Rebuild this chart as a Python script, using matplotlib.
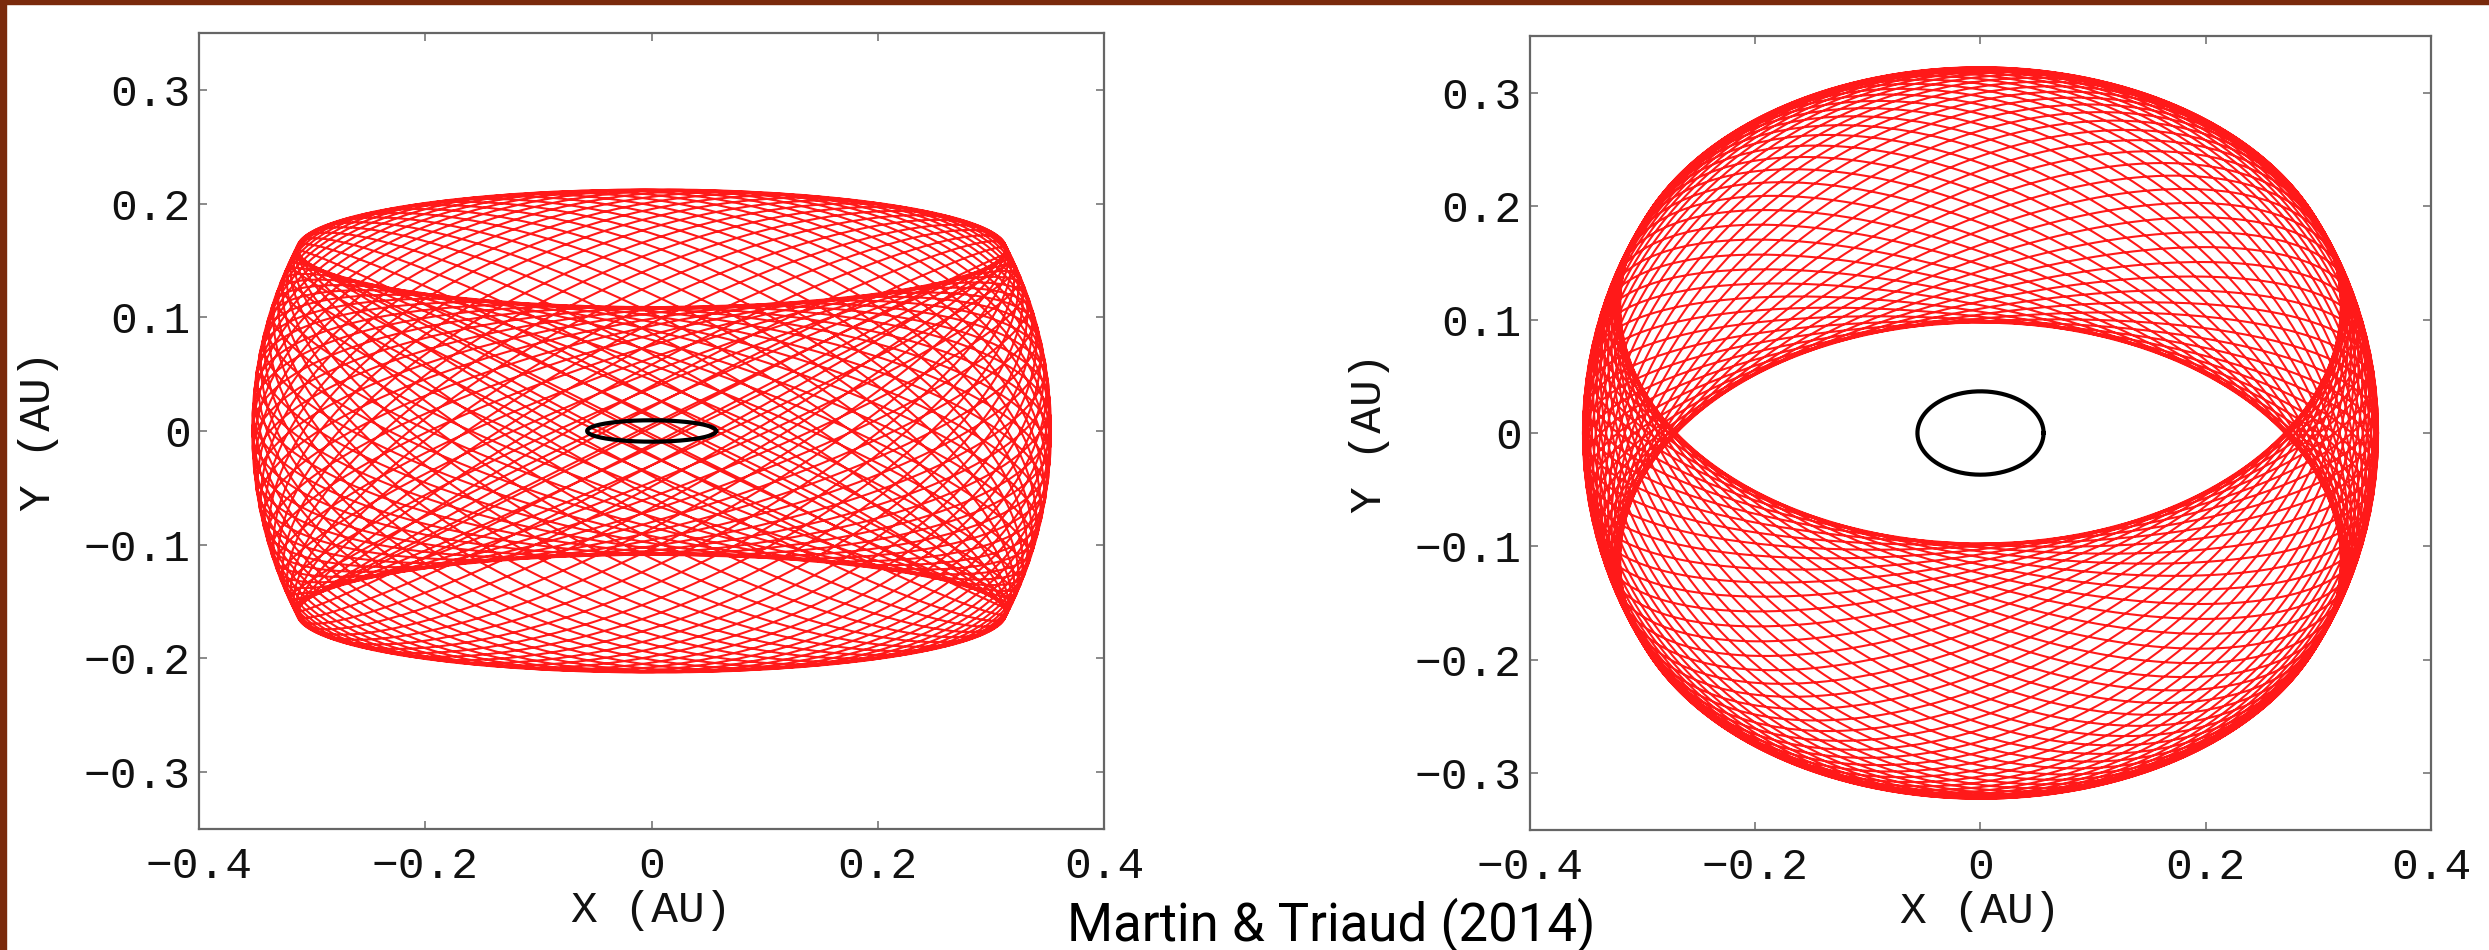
"""
Circumbinary planet orbit precessing around an inclined binary, two viewing angles
(after Martin & Triaud 2014). Red = planet orbit traced over one nodal precession,
black = binary orbit.
"""
import numpy as np
import matplotlib
matplotlib.use("Agg")
import matplotlib.pyplot as plt
from matplotlib.patches import Rectangle

# --- values ---------------------------------------------------------------
PLANET_A = [0.353, 0.353]        # planet orbit radius (AU), left / right
MUTUAL_INC = [27.5, 25.0]        # planet-binary mutual inclination (deg)
VIEW_INC = [80.5, 49.0]          # line of sight vs binary axis (deg)
BINARY_A = [0.057, 0.056]        # binary semi-major axis (AU)
N_ORBITS = [62, 62]              # planet orbits per precession cycle

XTICKS = [-0.4, -0.2, 0, 0.2, 0.4]
YTICKS = [-0.3, -0.2, -0.1, 0, 0.1, 0.2, 0.3]
XLIM = (-0.4, 0.4)
YLIM = (-0.35, 0.35)
XLABEL = "X (AU)"
YLABEL = "Y (AU)"
CREDIT = "Martin & Triaud (2014)"

RED = "#ff0000"
BORDER = "#7a2a0c"
MONO = ["Liberation Mono", "DejaVu Sans Mono"]


def planet_track(a, dinc, view, n_orb, n_per=360):
    di, vi = np.radians(dinc), np.radians(view)
    t = np.linspace(0, 1, n_orb * n_per + 1)
    u = 2 * np.pi * n_orb * t
    om = -2 * np.pi * t                      # node regresses once
    x = a * (np.cos(u) * np.cos(om) - np.cos(di) * np.sin(u) * np.sin(om))
    y = a * (np.cos(u) * np.sin(om) + np.cos(di) * np.sin(u) * np.cos(om))
    z = a * np.sin(di) * np.sin(u)
    return x, z * np.sin(vi) + y * np.cos(vi)


def binary_track(ab, view):
    th = np.linspace(0, 2 * np.pi, 400)
    return ab * np.cos(th), ab * np.sin(th) * np.cos(np.radians(view))


def fmt(v):
    return f"{v:g}".replace("-", "\u2212")


fig = plt.figure(figsize=(24.89, 9.5), dpi=100)
rects = [[0.0800, 0.1274, 0.3636, 0.8379], [0.6147, 0.1263, 0.3620, 0.8358]]

for k, r in enumerate(rects):
    ax = fig.add_axes(r)
    px, py = planet_track(PLANET_A[k], MUTUAL_INC[k], VIEW_INC[k], N_ORBITS[k])
    ax.plot(px, py, color=RED, lw=1.5, alpha=0.9, solid_joinstyle="round")
    bx, by = binary_track(BINARY_A[k], VIEW_INC[k])
    ax.plot(bx, by, color="black", lw=3.0)

    ax.set_xlim(*XLIM); ax.set_ylim(*YLIM)
    ax.set_xticks(XTICKS); ax.set_yticks(YTICKS)
    ax.set_xticklabels([fmt(v) for v in XTICKS], family=MONO, fontsize=32, color="#111")
    ax.set_yticklabels([fmt(v) for v in YTICKS], family=MONO, fontsize=32, color="#111")
    ax.tick_params(direction="in", length=6, width=1.2, color="#777",
                   top=True, right=True)
    ax.tick_params(axis="x", pad=12)
    ax.tick_params(axis="y", pad=6)
    for s in ax.spines.values():
        s.set_color("#666"); s.set_linewidth(1.6)

    ax.set_xlabel(XLABEL, family=MONO, fontsize=32, color="#111")
    ax.set_ylabel(YLABEL, family=MONO, fontsize=32, color="#111")
    ax.xaxis.set_label_coords(0.5, -0.077)
    ax.yaxis.set_label_coords(-0.155, 0.5)

fig.text(1067 / 2489, 9 / 950, CREDIT, fontsize=38, va="baseline", ha="left",
         family=["Roboto", "DejaVu Sans"], color="black")

# brown frame on the left and top edges
fig.patches.append(Rectangle((0, 0), 6 / 2489, 1, transform=fig.transFigure,
                             color=BORDER, zorder=10))
fig.patches.append(Rectangle((0, 1 - 4 / 950), 1, 4 / 950, transform=fig.transFigure,
                             color=BORDER, zorder=10))

fig.savefig("out.png", dpi=100, facecolor="white")
